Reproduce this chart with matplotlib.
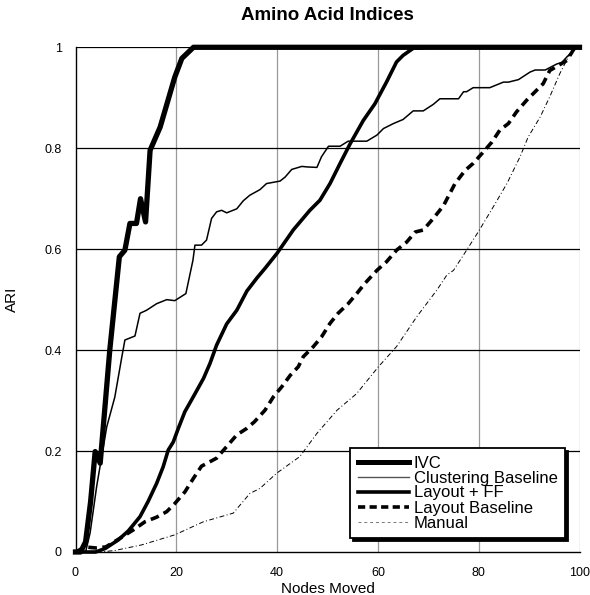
import matplotlib
matplotlib.use("Agg")
import matplotlib.pyplot as plt

plt.rcParams['font.family'] = ['Liberation Sans', 'DejaVu Sans']

title = "Amino Acid Indices"
x_label = "Nodes Moved"
y_label = "ARI"
x_ticks = [0, 20, 40, 60, 80, 100]
y_ticks = [0, 0.2, 0.4, 0.6, 0.8, 1.0]
y_tick_labels = ["0", "0.2", "0.4", "0.6", "0.8", "1"]

ivc_x = [0, 1, 2, 3, 3.9, 4.9, 6.8, 8.7, 9.8, 10.8, 12.1, 12.9, 13.9, 14.8, 16.8, 19.7, 21.1, 23.4, 30, 50, 70, 100]
ivc_y = [0, 0.0, 0.02, 0.1, 0.199, 0.176, 0.40, 0.585, 0.598, 0.651, 0.651, 0.70, 0.654, 0.796, 0.842, 0.941, 0.978, 1.0, 1.0, 1.0, 1.0, 1.0]

clus_x = [0, 2, 2.9, 4.2, 5.2, 6.2, 7.8, 9.2, 9.8, 11.8, 12.8, 14.1, 16.1, 18.1, 19.7, 21.9, 23.3, 23.7, 25, 26, 27, 28, 29, 30,
          32, 33.3, 34.6, 36.6, 37.9, 40.6, 41.6, 42.9, 44.9, 45.9, 47.9, 48.8, 50.2, 52.5, 54.1, 57.8, 59.8, 61.1, 63.1, 65,
          67, 69, 71, 72.3, 76, 77, 77.6, 78.9, 82.2, 84.9, 85.9, 87.9, 90.2, 91.2, 93.2, 95.5, 96.5, 97.5, 99.5, 100]
clus_y = [0, 0.0, 0.038, 0.13, 0.189, 0.248, 0.307, 0.387, 0.42, 0.428, 0.473, 0.479, 0.492, 0.50, 0.498, 0.512, 0.578, 0.608, 0.608, 0.618, 0.661, 0.674, 0.677, 0.672,
          0.68, 0.696, 0.707, 0.718, 0.73, 0.735, 0.743, 0.758, 0.764, 0.763, 0.762, 0.783, 0.804, 0.804, 0.814, 0.814, 0.826, 0.839, 0.849, 0.857,
          0.874, 0.874, 0.887, 0.898, 0.898, 0.912, 0.912, 0.92, 0.92, 0.931, 0.931, 0.936, 0.951, 0.955, 0.955, 0.967, 0.97, 0.981, 1.0, 1.0]

lff_x = [0, 2, 4, 5.9, 8.5, 10.5, 12.8, 14.4, 16.1, 17.4, 18.4, 19.4, 20.4, 21.7, 23.4, 25.4, 26.7, 28, 30, 32, 34, 36, 37.6,
         40, 43.2, 46.5, 48.5, 50.5, 52.5, 54.5, 57.1, 59.4, 61.7, 63.7, 65, 67, 70, 80, 90, 100]
lff_y = [0, 0, 0.0, 0.007, 0.024, 0.042, 0.07, 0.1, 0.136, 0.169, 0.202, 0.218, 0.245, 0.278, 0.308, 0.344, 0.374, 0.41, 0.452, 0.479, 0.517, 0.543, 0.562,
         0.592, 0.638, 0.677, 0.697, 0.73, 0.77, 0.809, 0.855, 0.888, 0.931, 0.971, 0.984, 0.998, 1.0, 1.0, 1.0, 1.0]

lb_x = [0, 1.9, 4, 6, 8.8, 11.5, 13.8, 16.1, 18.1, 19.7, 21.7, 23.4, 25, 28, 30, 32, 34, 35.5, 37.6, 39.3, 40.9, 42.6, 44.2, 45.2,
        47.2, 48.8, 50.5, 52.1, 54.1, 55.8, 57.4, 59.8, 61.7, 63.7, 65.7, 67.4, 69, 71, 73, 75.3, 77.3, 78.9, 80.6, 82.6,
        84.2, 85.9, 87.5, 89.5, 91.2, 92.8, 94.1, 95.8, 97.5, 99.1, 100]
lb_y = [0, 0.01, 0.008, 0.01, 0.027, 0.044, 0.06, 0.069, 0.08, 0.096, 0.119, 0.146, 0.17, 0.186, 0.209, 0.232, 0.245, 0.258, 0.281, 0.308, 0.327, 0.35, 0.367, 0.387,
        0.407, 0.426, 0.453, 0.473, 0.492, 0.512, 0.532, 0.558, 0.575, 0.598, 0.614, 0.634, 0.638, 0.661, 0.686, 0.73, 0.756, 0.77, 0.789, 0.812,
        0.836, 0.849, 0.872, 0.895, 0.912, 0.928, 0.954, 0.964, 0.974, 1.0, 1.0]

man_x = [0, 5, 7.8, 13.1, 19.7, 25.4, 31.3, 34.6, 36.6, 39.9, 44.5, 47.9, 51.9, 55.8, 60.1, 63.7, 67.7, 71.7, 73.7, 75, 77.6,
         79.9, 82.9, 85.6, 88.2, 89.8, 92.2, 94.1, 96.1, 97.8, 99.1, 100]
man_y = [0, 0, 0.003, 0.014, 0.034, 0.06, 0.077, 0.116, 0.126, 0.156, 0.189, 0.235, 0.281, 0.314, 0.367, 0.407, 0.466, 0.519, 0.549, 0.558, 0.598,
         0.634, 0.684, 0.73, 0.783, 0.822, 0.862, 0.902, 0.948, 0.981, 1.0, 1.0]

fig = plt.figure(figsize=(5.9, 5.95), dpi=100)
ax = fig.add_axes([75.5 / 590, 1 - 552 / 595, 504 / 590, 504.7 / 595])

ax.set_xlim(0, 100)
ax.set_ylim(0, 1)
ax.set_xticks(x_ticks)
ax.set_yticks(y_ticks)
ax.set_yticklabels(y_tick_labels)
ax.tick_params(axis='both', length=0, labelsize=9)
ax.tick_params(axis='x', pad=11)
ax.tick_params(axis='y', pad=10)

for xv in x_ticks[1:]:
    ax.axvline(xv, color='#999999', lw=0.9, zorder=1)
for yv in y_ticks[1:]:
    ax.axhline(yv, color='black', lw=0.9, zorder=1)

for s in ['top', 'right']:
    ax.spines[s].set_visible(False)
ax.spines['left'].set_linewidth(1.0)
ax.spines['bottom'].set_linewidth(1.0)

ax.plot(man_x, man_y, color='black', lw=0.7, dashes=(5, 2.5, 1, 2.5), clip_on=False, zorder=3)
ax.plot(lb_x, lb_y, color='black', lw=2.6, dashes=(2.4, 1.5), clip_on=False, zorder=4)
ax.plot(clus_x, clus_y, color='black', lw=1.1, clip_on=False, zorder=4)
ax.plot(lff_x, lff_y, color='black', lw=2.6, clip_on=False, zorder=5, solid_joinstyle='round')
ax.plot(ivc_x, ivc_y, color='black', lw=3.8, clip_on=False, zorder=6, solid_joinstyle='round')

from matplotlib.lines import Line2D
handles = [
    Line2D([], [], color='black', lw=3.6),
    Line2D([], [], color='#555555', lw=1.0),
    Line2D([], [], color='black', lw=2.6),
    Line2D([], [], color='black', lw=2.6, dashes=(2.0, 1.2)),
    Line2D([], [], color='#777777', lw=0.7, dashes=(3, 3)),
]
labels = ["IVC", "Clustering Baseline", "Layout + FF", "Layout Baseline", "Manual"]
leg = ax.legend(handles, labels, loc='lower right', bbox_to_anchor=(565 / 590, 1 - 538 / 595),
                bbox_transform=fig.transFigure, fontsize=12, frameon=True, fancybox=False,
                shadow={'color': 'black', 'alpha': 1.0}, labelspacing=0.0, handlelength=3.1,
                handletextpad=0.25, borderpad=0.45, borderaxespad=0, framealpha=1)
leg.get_frame().set_edgecolor('black')
leg.get_frame().set_linewidth(1.3)
leg.set_zorder(10)

ax.set_xlabel(x_label, fontsize=11, labelpad=2)
ax.set_ylabel(y_label, fontsize=11, labelpad=18)
fig.text(327.5 / 590, 1 - 15 / 595, title, fontsize=13.5, fontweight='bold', ha='center', va='center')

fig.savefig("out.png", dpi=100)
